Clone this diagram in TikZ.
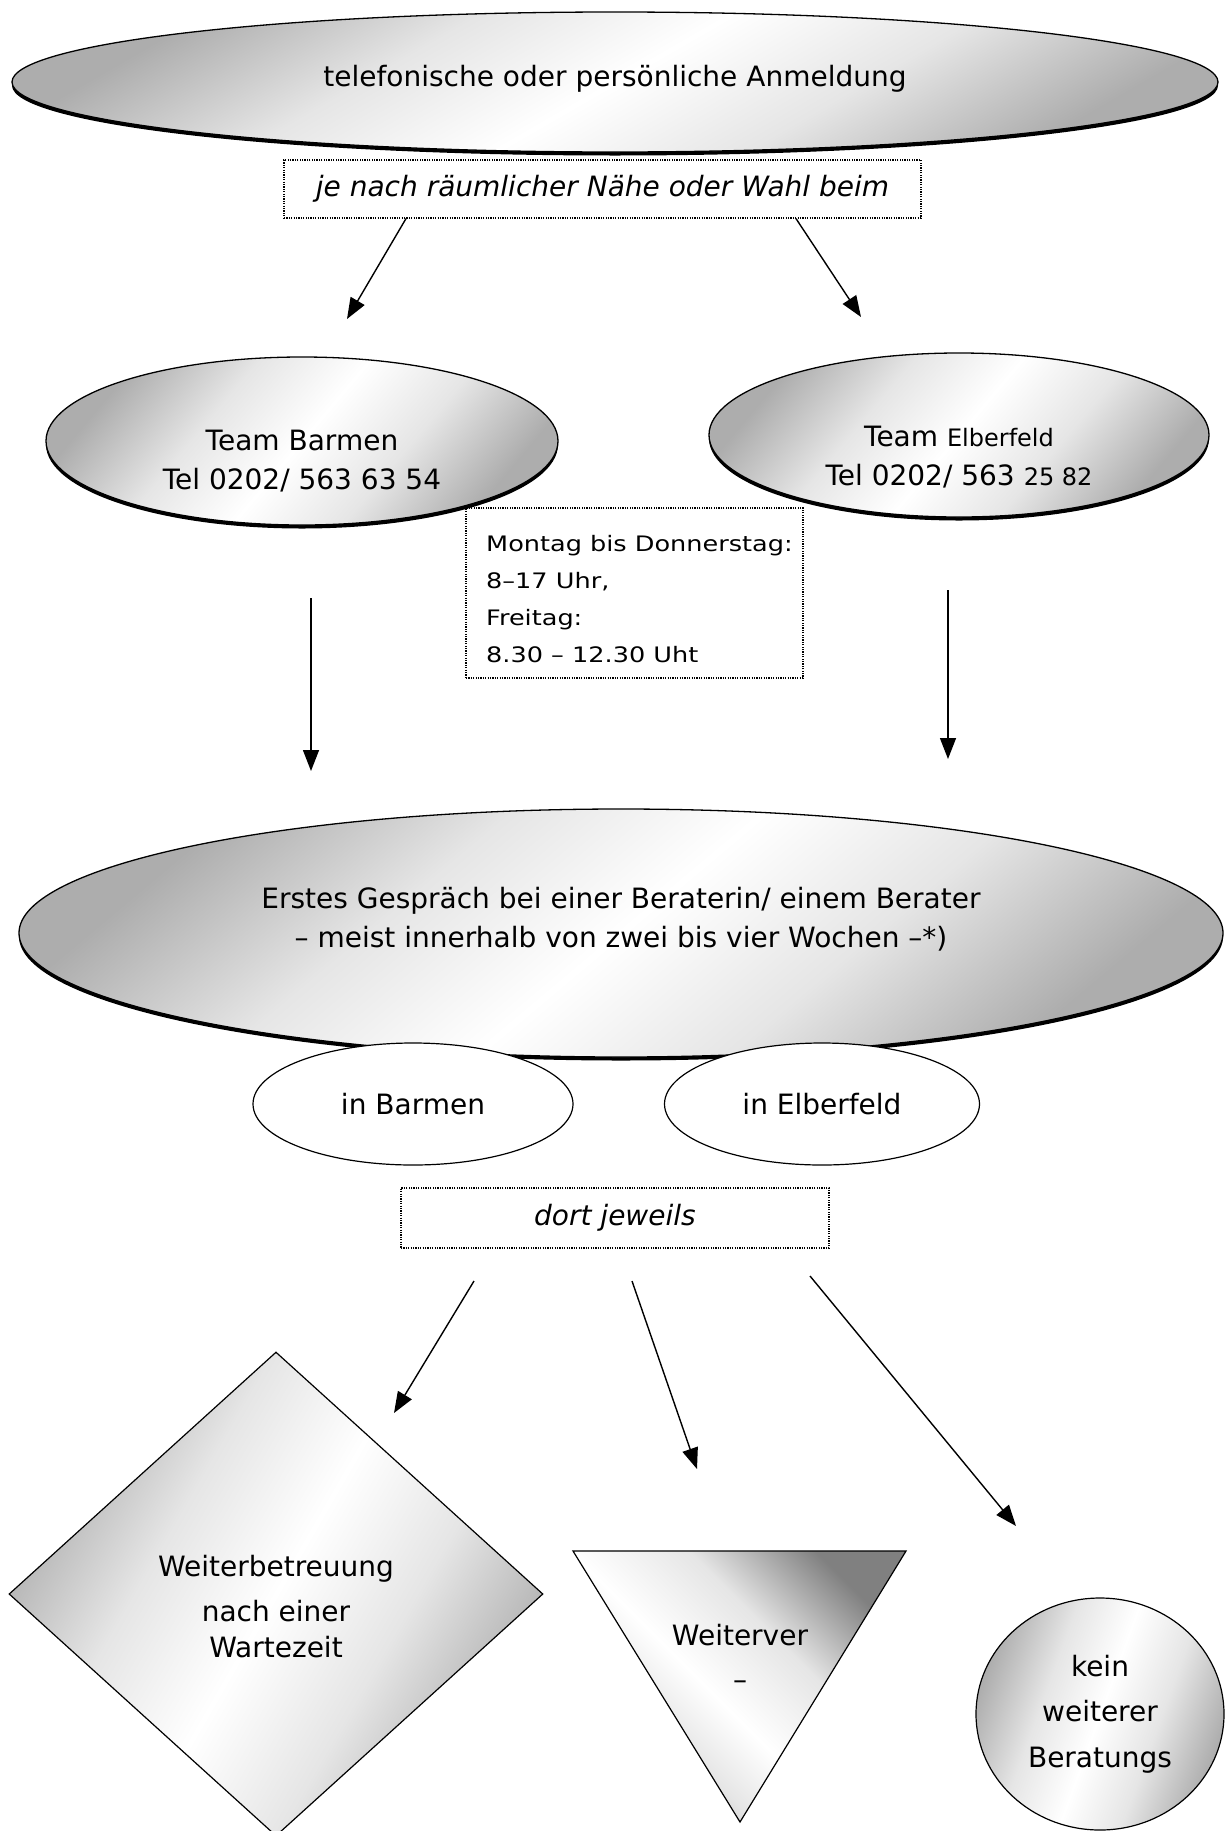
\documentclass[tikz,border=0pt]{standalone}
\usepackage{fontspec}
\setmainfont{DejaVu Sans}
\newfontfamily\widefont[FakeStretch=1.2]{DejaVu Sans}
\usetikzlibrary{shapes.geometric,arrows.meta,shadows}
\definecolor{edgegray}{gray}{0.68}
\definecolor{midgray}{gray}{0.9}
\definecolor{darkgrayb}{gray}{0.5}
\pgfdeclarehorizontalshading{mirror}{100bp}{color(0bp)=(edgegray); color(25bp)=(edgegray); color(38bp)=(midgray); color(50bp)=(white); color(62bp)=(midgray); color(75bp)=(edgegray); color(100bp)=(edgegray)}
\pgfdeclarehorizontalshading{mirrordark}{100bp}{color(0bp)=(edgegray); color(25bp)=(edgegray); color(36bp)=(midgray); color(46bp)=(white); color(60bp)=(midgray); color(75bp)=(darkgrayb); color(100bp)=(darkgrayb)}
\begin{document}
\begin{tikzpicture}[x=1pt,y=-1pt,
  oval/.style={ellipse, draw=black, line width=1.3pt, inner sep=0pt, shade, shading=mirror},
  shadowed/.style={drop shadow={shadow xshift=0pt, shadow yshift=-3.5pt, opacity=1, fill=black}},
  txt/.style={align=center, font=\fontsize{28}{39}\selectfont, inner sep=0pt},
  note/.style={draw=black, line width=1.2pt, dash pattern=on 1.2pt off 1.2pt, inner sep=0pt, font=\fontsize{28}{33}\selectfont\itshape},
  whiteoval/.style={ellipse, draw=black, line width=1.2pt, fill=white, inner sep=0pt, font=\fontsize{28}{33}\selectfont},
  arr/.style={line width=1.4pt, -{Triangle[length=21pt,width=16pt]}},
]
\fill[white] (0,0) rectangle (1225,1831);
\useasboundingbox (0,0) rectangle (1225,1831);

% top
\node[oval, shadowed, minimum width=1206pt, minimum height=140pt, shading angle=-60] (anm) at (615,82) {};
\node[txt] (anmT) at (615,79) {telefonische oder persönliche Anmeldung};

\node[note, minimum width=637pt, minimum height=58pt] (nah) at (602.5,189) {je nach räumlicher Nähe oder Wahl beim};

% teams
\node[oval, shadowed, minimum width=512pt, minimum height=168pt, shading angle=-40] (tb) at (302,441) {};
\node[txt] (tbT) at (302,461) {Team Barmen\\Tel 0202/ 563 63 54};
\node[oval, shadowed, minimum width=500pt, minimum height=164pt, shading angle=-40] (te) at (959,435) {};
\node[txt] (teT) at (959,457) {Team {\fontsize{24}{39}\selectfont Elberfeld}\\Tel 0202/ 563 {\fontsize{24}{39}\selectfont 25 82}};

\node[draw=black, line width=1.2pt, dash pattern=on 1.2pt off 1.2pt, inner sep=0pt, minimum width=337pt, minimum height=170pt] (hours) at (634.5,593) {};
\node[align=left, anchor=west, inner sep=0pt, font=\widefont\fontsize{21.3}{36.7}\selectfont] (hoursT) at (486,599) {Montag bis Donnerstag:\\8–17 Uhr,\\Freitag:\\8.30 – 12.30 Uht};

% big ellipse
\node[oval, shadowed, minimum width=1204pt, minimum height=248pt, shading angle=-50] (erst) at (621,933) {};
\node[txt] (erstT) at (621,919) {Erstes Gespräch bei einer Beraterin/ einem Berater\\– meist innerhalb von zwei bis vier Wochen –*)};

\node[whiteoval, minimum width=320pt, minimum height=122pt] (inb) at (413,1104) {in Barmen};
\node[whiteoval, minimum width=315pt, minimum height=122pt] (ine) at (822,1104) {in Elberfeld};

\node[note, minimum width=428pt, minimum height=60pt] (dort) at (615,1218) {dort jeweils};

% bottom shapes
\node[diamond, draw=black, line width=1.2pt, inner sep=0pt, shade, shading=mirror, shading angle=-30, minimum width=534pt, minimum height=484pt] (dia) at (276,1594) {};
\node[txt, font=\fontsize{28}{36}\selectfont] (diaT) at (276,1607) {Weiterbetreuung\\[9pt]nach einer\\Wartezeit};

\coordinate (tr1) at (573,1551);
\coordinate (tr2) at (906,1551);
\coordinate (tr3) at (740,1822);
\path[draw=black, line width=1.2pt, shade, shading=mirrordark, shading angle=45] (tr1) -- (tr2) -- (tr3) -- cycle;
\node[txt, font=\fontsize{28}{44}\selectfont] (triT) at (740,1657) {Weiterver\\–};

\node[oval, line width=1.2pt, minimum width=248pt, minimum height=232pt, shading angle=-20] (kein) at (1100,1714) {};
\node[txt, font=\fontsize{28}{45.5}\selectfont] (keinT) at (1100,1714) {kein\\weiterer\\Beratungs};

% arrows
\coordinate (a1s) at ([xshift=-196.5pt]nah.south);
\coordinate (a2s) at ([xshift=193.5pt]nah.south);
\coordinate (a1e) at (347,319);
\coordinate (a2e) at (861,317);
\draw[arr] (a1s) -- (a1e);
\draw[arr] (a2s) -- (a2e);

\coordinate (a3s) at (311,598);
\coordinate (a3e) at (311,771);
\coordinate (a4s) at (948,590);
\coordinate (a4e) at (948,759);
\draw[arr] (a3s) -- (a3e);
\draw[arr] (a4s) -- (a4e);

\coordinate (a5s) at (474,1281);
\coordinate (a5e) at (394,1413);
\coordinate (a6s) at (632,1281);
\coordinate (a6e) at (697,1469);
\coordinate (a7s) at (810,1276);
\coordinate (a7e) at (1016,1526);
\draw[arr] (a5s) -- (a5e);
\draw[arr] (a6s) -- (a6e);
\draw[arr] (a7s) -- (a7e);
\end{tikzpicture}
\end{document}
